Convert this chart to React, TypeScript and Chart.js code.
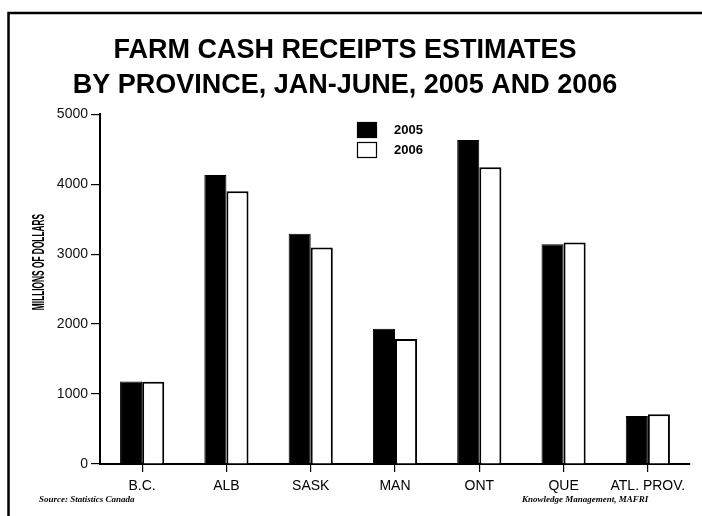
import React, { useEffect, useRef } from "react";
import { Chart, registerables } from "chart.js";

Chart.register(...registerables);

const categories = ["B.C.", "ALB", "SASK", "MAN", "ONT", "QUE", "ATL. PROV."];
const values2005 = [1180, 4130, 3290, 1935, 4630, 3140, 685];
const values2006 = [1175, 3900, 3095, 1785, 4240, 3165, 710];
const seriesNames = ["2005", "2006"];
const titleLines = ["FARM CASH RECEIPTS ESTIMATES", "BY PROVINCE, JAN-JUNE, 2005 AND 2006"];
const yAxisTitle = "MILLIONS OF DOLLARS";
const sourceNote = "Source: Statistics Canada";
const creditNote = "Knowledge Management, MAFRI";

const FONT = "'Liberation Sans', Arial, Helvetica, sans-serif";

const decorPlugin = {
  id: "decor",
  beforeDraw(chart: any) {
    const ctx = chart.ctx;
    ctx.save();
    ctx.fillStyle = "#fff";
    ctx.fillRect(0, 0, chart.width, chart.height);
    ctx.strokeStyle = "#000";
    ctx.lineWidth = 2.5;
    ctx.beginPath();
    ctx.moveTo(8.5, chart.height + 5);
    ctx.lineTo(8.5, 13);
    ctx.lineTo(chart.width + 5, 13);
    ctx.stroke();
    ctx.restore();
  },
  afterDraw(chart: any) {
    const ctx = chart.ctx;
    ctx.save();
    ctx.fillStyle = "#000";
    ctx.font = `bold 17px ${FONT}`;
    ctx.textAlign = "center";
    ctx.textBaseline = "middle";
    ctx.translate(39, 262);
    ctx.rotate(-Math.PI / 2);
    ctx.scale(0.49, 1);
    ctx.fillText(yAxisTitle, 0, 0);
    ctx.restore();

    ctx.save();
    const ds = chart.data.datasets;
    const boxX = 357;
    const rows = [122, 142];
    ds.forEach((d: any, i: number) => {
      const y = rows[i];
      ctx.fillStyle = d.backgroundColor;
      ctx.fillRect(boxX, y, 20, 16);
      ctx.strokeStyle = "#000";
      ctx.lineWidth = 1.2;
      ctx.strokeRect(boxX + 0.5, y + 0.5, 19, 15);
      ctx.fillStyle = "#000";
      ctx.font = `bold 13px ${FONT}`;
      ctx.textAlign = "left";
      ctx.textBaseline = "middle";
      ctx.fillText(d.label, 394, y + 8);
    });
    ctx.font = `italic bold 9px 'Liberation Serif', 'Times New Roman', serif`;
    ctx.textBaseline = "middle";
    ctx.textAlign = "left";
    ctx.fillText(sourceNote, 39, 500);
    ctx.fillText(creditNote, 522, 500);
    ctx.restore();
  },
};

export default function App() {
  const ref = useRef<HTMLCanvasElement | null>(null);
  useEffect(() => {
    if (!ref.current) return;
    const chart = new Chart(ref.current, {
      type: "bar",
      data: {
        labels: categories,
        datasets: [
          {
            label: seriesNames[0],
            data: values2005,
            backgroundColor: "#000000",
            borderColor: "#000000",
            borderWidth: 1,
            categoryPercentage: 0.524,
            barPercentage: 1,
          },
          {
            label: seriesNames[1],
            data: values2006,
            backgroundColor: "#ffffff",
            borderColor: "#000000",
            borderWidth: 2,
            categoryPercentage: 0.524,
            barPercentage: 1,
          },
        ],
      },
      options: {
        responsive: false,
        animation: false,
        devicePixelRatio: 1,
        layout: { padding: { left: 0, right: 12, top: 0, bottom: 22 } },
        plugins: {
          legend: { display: false },
          tooltip: { enabled: false },
          title: {
            display: true,
            text: titleLines,
            color: "#000",
            font: { family: FONT, size: 27, weight: "bold", lineHeight: 1.3 },
            padding: { top: 33, bottom: 11 },
          },
        },
        scales: {
          x: {
            grid: {
              display: true,
              offset: false,
              drawOnChartArea: false,
              drawTicks: true,
              tickLength: 8,
              color: "#000",
              lineWidth: 1.2,
            },
            border: { display: true, color: "#000", width: 2 },
            ticks: {
              color: "#000",
              font: { family: FONT, size: 14 },
              padding: 6,
              maxRotation: 0,
              autoSkip: false,
            },
            afterFit(scale: any) {
              scale.height = 30;
            },
          },
          y: {
            min: 0,
            max: 5000,
            grid: {
              display: true,
              drawOnChartArea: false,
              drawTicks: true,
              tickLength: 9,
              color: "#000",
              lineWidth: 1.2,
            },
            border: { display: true, color: "#000", width: 2 },
            ticks: {
              stepSize: 1000,
              color: "#111",
              font: { family: FONT, size: 14 },
              padding: 3,
              callback: (v: any) => String(v),
            },
            afterFit(scale: any) {
              scale.width = 100;
            },
          },
        },
      },
      plugins: [decorPlugin],
    });
    return () => chart.destroy();
  }, []);
  return (
    <div style={{ position: "fixed", left: 0, top: 0, width: 702, height: 516, background: "#fff" }}>
      <canvas ref={ref} width={702} height={516} style={{ display: "block", width: 702, height: 516 }} />
    </div>
  );
}
